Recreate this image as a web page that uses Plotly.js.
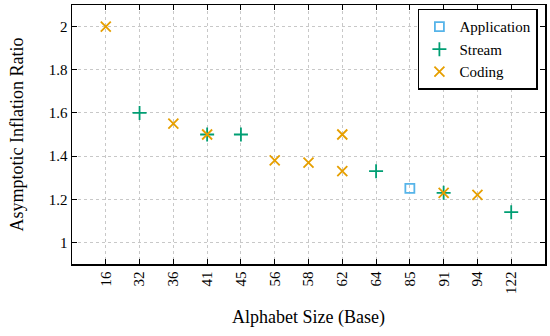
<!DOCTYPE html>
<html><head><meta charset="utf-8">
<script src="https://cdn.plot.ly/plotly-3.0.1.min.js"></script>
<style>html,body{margin:0;padding:0;background:#fff}#chart{width:550px;height:336px}</style>
</head><body><div id="chart"></div>
<script>
const categories = ["16","32","36","41","45","56","58","62","64","85","91","94","122"];
const appX = ["85"];
const appY = [1.25];
const streamX = ["32","41","45","64","91","122"];
const streamY = [1.6, 1.5, 1.5, 1.33, 1.23, 1.14];
const codingX = ["16","36","41","56","58","62","62","91","94"];
const codingY = [2.0, 1.55, 1.5, 1.38, 1.37, 1.5, 1.33, 1.23, 1.22];
const yTicks = [1, 1.2, 1.4, 1.6, 1.8, 2];

const font = "'Liberation Serif', 'Times New Roman', serif";
const traces = [
  {x: appX, y: appY, name: "Application", type: "scatter", mode: "markers",
   marker: {symbol: "square-open", size: 9, color: "#56B4E9", line: {width: 1.8, color: "#56B4E9"}}},
  {x: streamX, y: streamY, name: "Stream", type: "scatter", mode: "markers",
   marker: {symbol: "cross-thin-open", size: 10, color: "#009E73", line: {width: 1.8, color: "#009E73"}}},
  {x: codingX, y: codingY, name: "Coding", type: "scatter", mode: "markers",
   marker: {symbol: "x-thin-open", size: 10, color: "#E69F00", line: {width: 1.8, color: "#E69F00"}}}
];
const axisCommon = {
  showline: true, linecolor: "#000", linewidth: 1.5, mirror: "ticks",
  ticks: "inside", ticklen: 5, tickcolor: "#000", tickwidth: 1,
  showgrid: true, gridcolor: "#c8c8c8", griddash: "dot", gridwidth: 1,
  zeroline: false, tickfont: {family: font, size: 15, color: "#000"}
};
const layout = {
  width: 550, height: 336,
  margin: {l: 72, r: 5, t: 5, b: 72},
  paper_bgcolor: "#fff", plot_bgcolor: "#fff",
  font: {family: font, color: "#000"},
  showlegend: true,
  legend: {x: 0.985, y: 0.985, xanchor: "right", yanchor: "top",
    bordercolor: "#000", borderwidth: 1.5, bgcolor: "#fff",
    font: {family: font, size: 15, color: "#000"},
    tracegroupgap: 0, itemwidth: 30},
  xaxis: Object.assign({}, axisCommon, {
    type: "category", categoryorder: "array", categoryarray: categories,
    range: [-1, 13], tickangle: -90,
    title: {text: "Alphabet Size (Base)", font: {family: font, size: 18, color: "#000"}, standoff: 17}
  }),
  yaxis: Object.assign({}, axisCommon, {
    range: [0.9, 2.1], tickvals: yTicks, ticktext: yTicks.map(String),
    title: {text: "Asymptotic Inflation Ratio", font: {family: font, size: 18, color: "#000"}, standoff: 20}
  })
};
Plotly.newPlot("chart", traces, layout, {displayModeBar: false, staticPlot: true});
</script></body></html>
